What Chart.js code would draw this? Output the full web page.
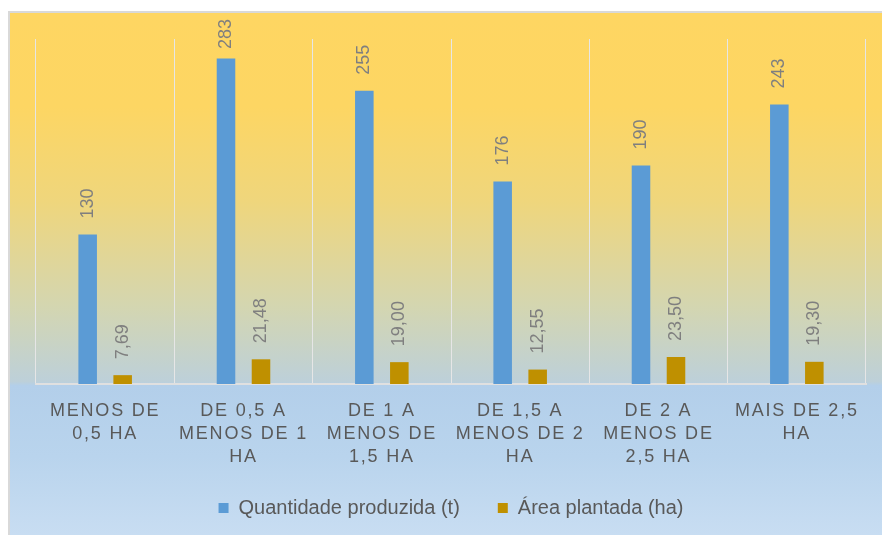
<!DOCTYPE html>
<html lang="pt-BR">
<head>
<meta charset="utf-8">
<title>Quantidade produzida e área plantada por faixa de área</title>
<script src="https://cdn.jsdelivr.net/npm/chart.js@4/dist/chart.umd.min.js"></script>
<style>
  html, body { margin: 0; padding: 0; background: #ffffff; }
  #moldura {
    position: absolute;
    left: 8px;
    top: 11px;
    width: 872px;
    height: 522px;
    border-left: 2px solid #d9d9d9;
    border-top: 2px solid #d9d9d9;
    background: linear-gradient(to bottom,
      #fed662 0%,
      #fdd663 18%,
      #efd67c 36%,
      #d4d6b0 56%,
      #bdd0d9 70.6%,
      #b3cfea 71.4%,
      #b9d4ed 85%,
      #c8ddf2 100%);
  }
  #grafico { display: block; }
</style>
</head>
<body>
<div id="moldura">
  <canvas id="grafico" width="872" height="522"></canvas>
</div>
<script>
  // faixas de área (rótulos do eixo, já quebrados em linhas)
  const faixas = [
    ["MENOS DE", "0,5 HA"],
    ["DE 0,5 A", "MENOS DE 1", "HA"],
    ["DE 1 A", "MENOS DE", "1,5 HA"],
    ["DE 1,5 A", "MENOS DE 2", "HA"],
    ["DE 2 A", "MENOS DE", "2,5 HA"],
    ["MAIS DE 2,5", "HA"]
  ];

  const quantidadeProduzida = [130, 283, 255, 176, 190, 243];
  const areaPlantada = [7.69, 21.48, 19.00, 12.55, 23.50, 19.30];

  const corQuantidade = "#5b9bd5";
  const corArea = "#bf9000";

  // eixo de categorias com espaçamento entre letras e sem recorte dos rótulos
  class EixoEspacado extends Chart.CategoryScale {
    _computeLabelArea() {
      return undefined;
    }
    drawLabels(area) {
      const ctx = this.ctx;
      ctx.save();
      ctx.letterSpacing = "1.8px";
      super.drawLabels(area);
      ctx.restore();
    }
  }
  EixoEspacado.id = "eixoEspacado";
  EixoEspacado.defaults = Chart.CategoryScale.defaults;
  Chart.register(EixoEspacado);

  // rótulos de valor girados acima de cada barra
  const rotulosValores = {
    id: "rotulosValores",
    afterDatasetsDraw(chart) {
      const ctx = chart.ctx;
      ctx.save();
      ctx.font = "18px 'Liberation Sans', Arial, sans-serif";
      ctx.fillStyle = "#7f7f7f";
      ctx.textAlign = "left";
      ctx.textBaseline = "middle";
      chart.data.datasets.forEach((ds, i) => {
        const meta = chart.getDatasetMeta(i);
        meta.data.forEach((barra, j) => {
          const v = ds.data[j];
          const texto = i === 0
            ? String(v)
            : v.toFixed(2).replace(".", ",");
          const largura = ctx.measureText(texto).width;
          let base = barra.y - 16;
          if (base - largura < 6) base = 6 + largura;
          ctx.save();
          ctx.translate(barra.x, base);
          ctx.rotate(-Math.PI / 2);
          ctx.fillText(texto, 0, 0);
          ctx.restore();
        });
      });
      ctx.restore();
    }
  };

  const ctx = document.getElementById("grafico").getContext("2d");
  new Chart(ctx, {
    type: "bar",
    data: {
      labels: faixas,
      datasets: [
        {
          label: "Quantidade produzida (t)",
          data: quantidadeProduzida,
          backgroundColor: corQuantidade
        },
        {
          label: "Área plantada (ha)",
          data: areaPlantada,
          backgroundColor: corArea
        }
      ]
    },
    options: {
      responsive: false,
      animation: false,
      events: [],
      layout: { padding: { left: 26, right: 16, top: 26, bottom: 15 } },
      datasets: {
        bar: { categoryPercentage: 0.506, barPercentage: 0.53 }
      },
      scales: {
        x: {
          type: "eixoEspacado",
          grid: { color: "#e6e6e6", lineWidth: 1, drawTicks: false },
          border: { color: "#e0e0e0", width: 2 },
          ticks: {
            color: "#595959",
            padding: 15,
            maxRotation: 0,
            autoSkip: false,
            font: { family: "'Liberation Sans', Arial, sans-serif", size: 18, lineHeight: 1.3 }
          },
          afterFit(scale) { scale.height = 76; }
        },
        y: {
          display: false,
          min: 0,
          max: 300
        }
      },
      plugins: {
        legend: {
          position: "bottom",
          maxHeight: 60,
          labels: {
            boxWidth: 10,
            boxHeight: 10,
            padding: 38,
            color: "#595959",
            font: { family: "'Liberation Sans', Arial, sans-serif", size: 20 }
          }
        },
        tooltip: { enabled: false }
      }
    },
    plugins: [rotulosValores]
  });
</script>
</body>
</html>
